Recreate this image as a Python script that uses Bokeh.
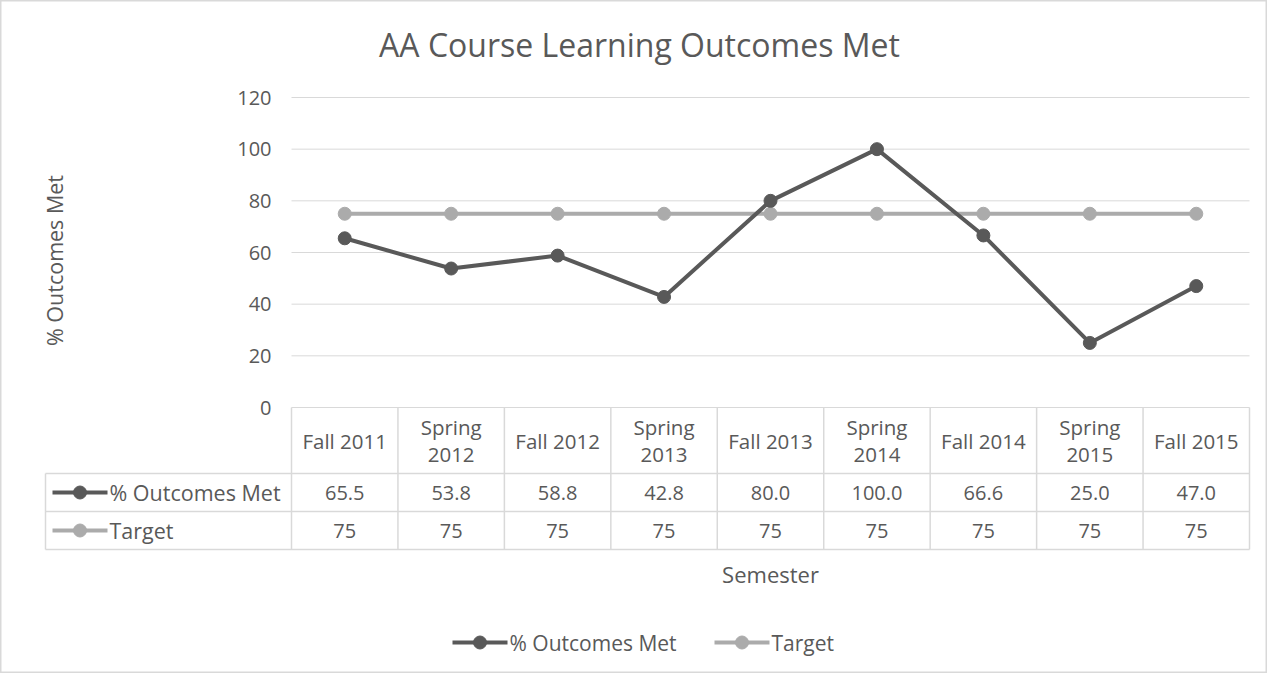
from bokeh.plotting import figure
from bokeh.models import Range1d
from bokeh.core.properties import value
from bokeh.embed import file_html
from bokeh.resources import INLINE

# ---------------- data ----------------
semesters = ["Fall 2011", "Spring\n2012", "Fall 2012", "Spring\n2013", "Fall 2013",
             "Spring\n2014", "Fall 2014", "Spring\n2015", "Fall 2015"]
outcomes = [65.5, 53.8, 58.8, 42.8, 80.0, 100.0, 66.6, 25.0, 47.0]
target = [75, 75, 75, 75, 75, 75, 75, 75, 75]
y_ticks = [0, 20, 40, 60, 80, 100, 120]
series_names = ["% Outcomes Met", "Target"]

# ---------------- layout (page pixels) ----------------
W, H = 1267, 673
OX, OY = 8, 8
PLOT_L, PLOT_R = 299, 1257
Y0_PX, YTOP_PX = 415, 105
n = len(semesters)
xs_per = (PLOT_R - PLOT_L) / n
ys_per = (Y0_PX - YTOP_PX) / 120.0

def dx(px):
    return 0.5 + (px - PLOT_L) / xs_per

def dy(py):
    return (Y0_PX - py) / ys_per

FONT = value("Open Sans")
TXT = "#595959"
GRID = "#d9d9d9"
C1 = "#595959"
C2 = "#ababab"

p = figure(width=W, height=H,
           x_range=Range1d(dx(OX), dx(OX + W)),
           y_range=Range1d(dy(OY + H), dy(OY)),
           output_backend="svg", toolbar_location=None,
           x_axis_location=None, y_axis_location=None,
           min_border=0, min_border_left=0, min_border_right=0,
           min_border_top=0, min_border_bottom=0)
p.grid.visible = False
p.outline_line_color = GRID
p.outline_line_width = 2
p.background_fill_color = "white"
p.border_fill_color = "white"

x_idx = list(range(1, n + 1))

# gridlines
for t in y_ticks:
    p.line([0.5, n + 0.5], [t, t], line_color=GRID, line_width=1)
p.text(x=[dx(279)] * len(y_ticks), y=y_ticks, text=[str(t) for t in y_ticks],
       text_align="right", text_baseline="middle", text_font=FONT,
       text_font_size="20px", text_color=TXT)

# title
p.text(x=[dx(647)], y=[dy(52)], text=["AA Course Learning Outcomes Met"],
       text_align="center", text_baseline="middle", text_font=FONT,
       text_font_size="32px", text_color=TXT)

# y axis label
p.text(x=[dx(62)], y=[dy(268)], text=["% Outcomes Met"], angle=1.5708,
       text_align="center", text_baseline="middle", text_font=FONT,
       text_font_size="21.5px", text_color=TXT)

# x axis label
p.text(x=[dx(778)], y=[dy(581)], text=["Semester"],
       text_align="center", text_baseline="middle", text_font=FONT,
       text_font_size="22px", text_color=TXT)

# series
p.line(x_idx, target, line_color=C2, line_width=4)
p.scatter(x_idx, target, size=13, fill_color=C2, line_color=C2)
p.line(x_idx, outcomes, line_color=C1, line_width=4)
p.scatter(x_idx, outcomes, size=13, fill_color=C1, line_color=C1)

# data table
hdr_bot = dy(481)
r1_bot = dy(519)
r2_bot = dy(557)
left_tab = dx(53)
for xv in [i + 0.5 for i in range(n + 1)]:
    p.line([xv, xv], [0, r2_bot], line_color=GRID, line_width=1.5)
p.line([left_tab, left_tab], [hdr_bot, r2_bot], line_color=GRID, line_width=1.5)
for yv in [hdr_bot, r1_bot, r2_bot]:
    p.line([left_tab, n + 0.5], [yv, yv], line_color=GRID, line_width=1.5)

p.text(x=x_idx, y=[(0 + hdr_bot) / 2] * n, text=semesters,
       text_align="center", text_baseline="middle", text_font=FONT,
       text_font_size="20.5px", text_color=TXT, text_line_height=0.93)
p.text(x=x_idx, y=[(hdr_bot + r1_bot) / 2] * n, text=["%.1f" % v for v in outcomes],
       text_align="center", text_baseline="middle", text_font=FONT,
       text_font_size="20px", text_color=TXT)
p.text(x=x_idx, y=[(r1_bot + r2_bot) / 2] * n, text=[str(v) for v in target],
       text_align="center", text_baseline="middle", text_font=FONT,
       text_font_size="20px", text_color=TXT)

# row headers with legend keys
for name, col, yc in [(series_names[0], C1, (hdr_bot + r1_bot) / 2),
                      (series_names[1], C2, (r1_bot + r2_bot) / 2)]:
    p.line([dx(60), dx(115)], [yc, yc], line_color=col, line_width=4)
    p.scatter([dx(87.5)], [yc], size=13, fill_color=col, line_color=col)
    p.text(x=[dx(117)], y=[yc], text=[name], text_align="left", text_baseline="middle",
           text_font=FONT, text_font_size="21.5px", text_color=TXT)

# bottom legend
ly = dy(650)
for name, col, x0 in [(series_names[0], C1, 460), (series_names[1], C2, 722)]:
    p.line([dx(x0), dx(x0 + 55)], [ly, ly], line_color=col, line_width=4)
    p.scatter([dx(x0 + 27.5)], [ly], size=13, fill_color=col, line_color=col)
    p.text(x=[dx(x0 + 57)], y=[ly], text=[name], text_align="left", text_baseline="middle",
           text_font=FONT, text_font_size="21px", text_color=TXT)

open("out.html", "w").write(file_html(p, INLINE))
